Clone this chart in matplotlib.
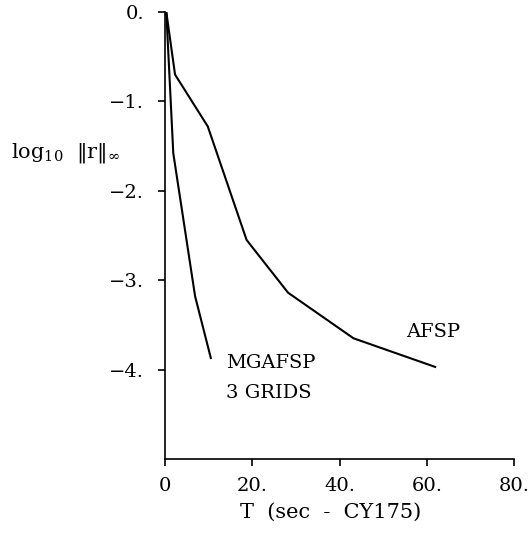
import matplotlib
matplotlib.use("Agg")
import matplotlib.pyplot as plt

# convergence history
afsp_t = [0.3, 2.3, 9.8, 18.7, 28.2, 43.2, 61.9]
afsp_r = [0.0, -0.70, -1.28, -2.55, -3.14, -3.65, -3.97]

mg_t = [0.3, 1.9, 6.9, 10.5]
mg_r = [0.0, -1.58, -3.18, -3.87]

xticks = [0, 20, 40, 60, 80]
xlabels = ["0", "20.", "40.", "60.", "80."]
yticks = [0, -1, -2, -3, -4]
ylabels = ["0.", "\u22121.", "\u22122.", "\u22123.", "\u22124."]

plt.rcParams['font.family'] = ['DejaVu Serif']
plt.rcParams['mathtext.fontset'] = 'dejavuserif'

fig = plt.figure(figsize=(5.30, 5.43), dpi=100)
ax = fig.add_axes([0.3113, 0.1547, 0.6587, 0.8233])

ax.plot(afsp_t, afsp_r, color="k", lw=1.5)
ax.plot(mg_t, mg_r, color="k", lw=1.5)

ax.set_xlim(0, 80)
ax.set_ylim(-5, 0)
ax.spines['top'].set_visible(False)
ax.spines['right'].set_visible(False)
ax.spines['left'].set_linewidth(1.2)
ax.spines['bottom'].set_linewidth(1.2)
ax.set_xticks(xticks)
ax.set_xticklabels(xlabels)
ax.set_yticks(yticks)
ax.set_yticklabels(ylabels)
ax.tick_params(labelsize=14, length=5, width=1.2, direction='out')
ax.tick_params(axis='x', pad=8)
ax.tick_params(axis='y', pad=10)

ax.text(55.3, -3.58, "AFSP", fontsize=14, va='center')
ax.text(13.9, -3.93, "MGAFSP", fontsize=14, va='center')
ax.text(13.9, -4.26, "3 GRIDS", fontsize=14, va='center')

fig.text(0.453, 0.057, "T  (sec  -  CY175)", fontsize=15, ha='left', va='center')
fig.text(0.02, 0.718, r"$\mathrm{log}_{10}\ \ \Vert\mathrm{r}\Vert_\infty$",
         fontsize=15, ha='left', va='center')

fig.savefig("out.png", dpi=100)
